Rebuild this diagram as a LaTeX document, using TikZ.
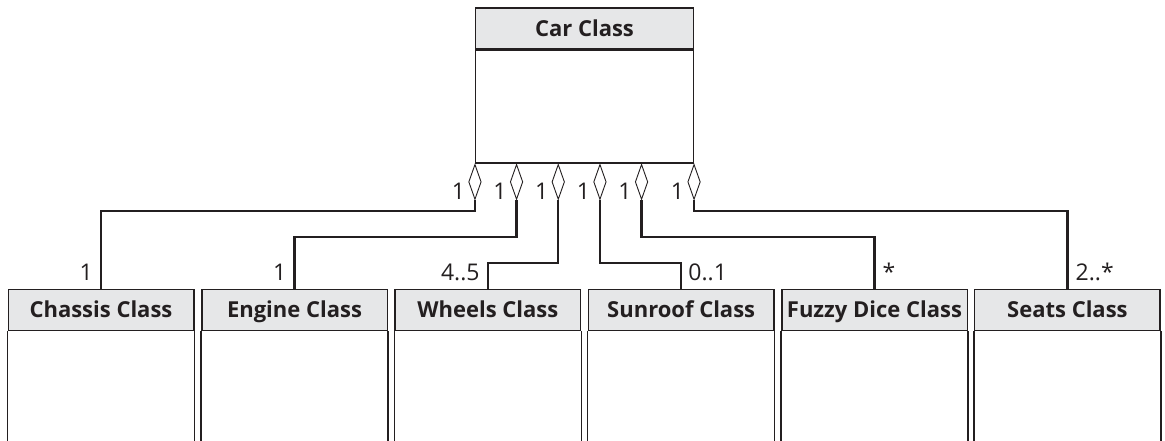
\documentclass[tikz,border=0pt]{standalone}
\usepackage{fontspec}
\setmainfont{Open Sans}
\usetikzlibrary{shapes.geometric}
\definecolor{hdrgray}{HTML}{E6E7E8}
\definecolor{ink}{HTML}{231F20}
\begin{document}
\begin{tikzpicture}[x=1pt,y=-1pt,
  hdr/.style={draw=ink,line width=1.5pt,fill=hdrgray,minimum width=185.5pt,minimum height=41pt,inner sep=0pt,text height=15.2pt,text depth=0pt,font=\fontsize{22}{26}\selectfont\bfseries,text=ink},
  carbody/.style={draw=ink,line width=1.5pt,minimum width=217.6pt,minimum height=112.7pt,inner sep=0pt},
  side/.style={draw=ink,line width=1.5pt},
  agg/.style={diamond,draw=ink,line width=0.9pt,fill=white,minimum width=12.6pt,minimum height=35pt,inner sep=0pt,anchor=north},
  conn/.style={draw=ink,line width=2.3pt},
  mult/.style={font=\fontsize{23}{26}\selectfont,text=ink,inner sep=0pt}]
\useasboundingbox (0,0) rectangle (1165,441);
% Car class
\node[hdr,minimum width=217.6pt] (carhdr) at (584.5,28.5) {Car Class};
\node[carbody,anchor=north] (car) at (carhdr.south) {};
% bottom classes
\node[hdr] (chassis) at (101,309.8) {Chassis Class};
\node[hdr] (engine) at (294.5,309.8) {Engine Class};
\node[hdr] (wheels) at (487.8,309.8) {Wheels Class};
\node[hdr] (sunroof) at (681.2,309.8) {Sunroof Class};
\node[hdr] (dice) at (874.5,309.8) {Fuzzy Dice Class};
\node[hdr] (seats) at (1067.4,309.8) {Seats Class};
\foreach \c in {chassis,engine,wheels,sunroof,dice,seats}{
  \draw[side] (\c.south west) -- (\c.south west |- 0,441);
  \draw[side] (\c.south east) -- (\c.south east |- 0,441);
}
% levels
\coordinate (lvA) at (0,210.7);
\coordinate (lvB) at (0,236.7);
\coordinate (lvC) at (0,262.7);
\path (car.south west) ++(0,0) coordinate (a1)
      (car.south west) ++(41.6,0) coordinate (a2)
      (car.south west) ++(83.3,0) coordinate (a3)
      (car.south west) ++(125,0) coordinate (a4)
      (car.south west) ++(166.6,0) coordinate (a5)
      (car.south east) coordinate (a6);
\node[agg] (d1) at (a1) {};
\node[agg] (d2) at (a2) {};
\node[agg] (d3) at (a3) {};
\node[agg] (d4) at (a4) {};
\node[agg] (d5) at (a5) {};
\node[agg] (d6) at (a6) {};
\draw[conn] (d1.south) |- (chassis.north |- lvA) -- (chassis.north);
\draw[conn] (d2.south) |- (engine.north |- lvB) -- (engine.north);
\draw[conn] (d3.south) |- (wheels.north |- lvC) -- (wheels.north);
\draw[conn] (d4.south) |- (sunroof.north |- lvC) -- (sunroof.north);
\draw[conn] (d5.south) |- (dice.north |- lvB) -- (dice.north);
\draw[conn] (d6.south) |- (seats.north |- lvA) -- (seats.north);
% multiplicities at car
\foreach \d in {d1,d2,d3,d4,d5,d6}{
  \node[mult,anchor=base east] at ([xshift=-3pt]\d.south -| \d.west) {1};
}
% multiplicities at parts
\node[mult,anchor=base east] at ([xshift=-8pt,yshift=8pt]chassis.north) {1};
\node[mult,anchor=base east] at ([xshift=-8pt,yshift=8pt]engine.north) {1};
\node[mult,anchor=base east] at ([xshift=-8pt,yshift=8pt]wheels.north) {4..5};
\node[mult,anchor=base west] at ([xshift=7pt,yshift=8pt]sunroof.north) {0..1};
\node[mult,anchor=base west] at ([xshift=8pt,yshift=8pt]dice.north) {*};
\node[mult,anchor=base west] at ([xshift=8pt,yshift=8pt]seats.north) {2..*};
\end{tikzpicture}
\end{document}
